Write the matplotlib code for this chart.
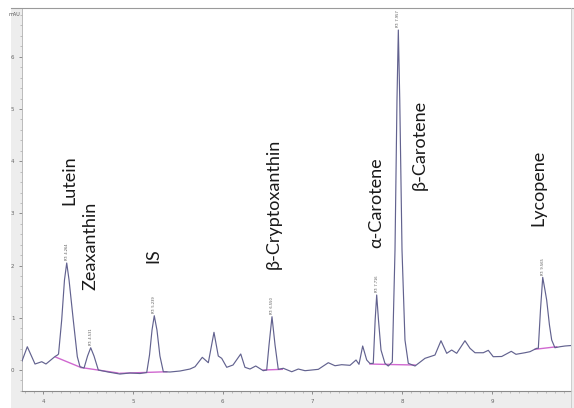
import matplotlib
matplotlib.use('Agg')
import matplotlib.pyplot as plt
from matplotlib.patches import Rectangle
from matplotlib.lines import Line2D
from matplotlib.ticker import MultipleLocator

# chromatogram trace (time in min, signal in mAU)
time = [3.766, 3.825, 3.911, 3.986, 4.033, 4.134, 4.161, 4.173, 4.208, 4.239, 4.264, 4.290,
        4.337, 4.382, 4.412, 4.457, 4.496, 4.531, 4.568, 4.616, 4.724, 4.857, 4.969, 5.080,
        5.155, 5.186, 5.214, 5.239, 5.269, 5.302, 5.340, 5.414, 5.526, 5.637, 5.693, 5.774,
        5.841, 5.904, 5.952, 5.990, 6.046, 6.116, 6.202, 6.249, 6.305, 6.369, 6.453, 6.491,
        6.517, 6.550, 6.584, 6.620, 6.676, 6.770, 6.843, 6.918, 7.066, 7.177, 7.252, 7.326,
        7.419, 7.486, 7.519, 7.560, 7.605, 7.641, 7.678, 7.699, 7.716, 7.736, 7.764, 7.808,
        7.845, 7.890, 7.920, 7.942, 7.957, 7.973, 7.998, 8.031, 8.068, 8.143, 8.254, 8.365,
        8.432, 8.496, 8.551, 8.607, 8.699, 8.755, 8.811, 8.903, 8.959, 9.014, 9.108, 9.215,
        9.267, 9.367, 9.423, 9.498, 9.516, 9.540, 9.565, 9.590, 9.609, 9.640, 9.665, 9.701,
        9.757, 9.813, 9.880]
signal = [0.172, 0.446, 0.115, 0.159, 0.115, 0.259, 0.287, 0.307, 0.958, 1.724, 2.050, 1.724,
          0.958, 0.255, 0.063, 0.038, 0.268, 0.427, 0.268, 0.000, -0.038, -0.077, -0.057, -0.067,
          -0.048, 0.287, 0.766, 1.040, 0.766, 0.268, -0.033, -0.038, -0.019, 0.019, 0.063, 0.243,
          0.140, 0.722, 0.268, 0.224, 0.052, 0.096, 0.307, 0.052, 0.019, 0.077, -0.013, 0.000,
          0.479, 1.021, 0.479, 0.013, 0.033, -0.033, 0.019, -0.013, 0.013, 0.140, 0.082, 0.102,
          0.090, 0.192, 0.109, 0.460, 0.192, 0.125, 0.128, 0.958, 1.437, 0.958, 0.383, 0.128,
          0.077, 0.153, 2.299, 5.172, 6.513, 5.172, 2.299, 0.575, 0.128, 0.077, 0.224, 0.287,
          0.561, 0.320, 0.383, 0.320, 0.561, 0.416, 0.331, 0.331, 0.377, 0.255, 0.259, 0.358,
          0.301, 0.331, 0.351, 0.416, 0.416, 1.149, 1.776, 1.533, 1.341, 0.862, 0.575, 0.427,
          0.446, 0.460, 0.469]

# integration baselines (start/end time, start/end signal)
base_t0 = [4.139, 4.423, 4.857, 6.453, 7.641, 7.845, 9.479]
base_t1 = [4.423, 4.835, 5.378, 6.665, 7.845, 8.143, 9.721]
base_v0 = [0.249, 0.048, -0.063, 0.000, 0.115, 0.106, 0.397]
base_v1 = [0.048, -0.057, -0.033, 0.013, 0.106, 0.096, 0.446]

# peaks
peak_names = ['Lutein', 'Zeaxanthin', 'IS', 'β-Cryptoxanthin', 'α-Carotene', 'β-Carotene', 'Lycopene']
peak_rt = [4.264, 4.531, 5.239, 6.550, 7.716, 7.957, 9.565]
peak_h = [2.050, 0.427, 1.040, 1.021, 1.437, 6.513, 1.776]
# where the compound names sit (centre of the rotated text)
label_t = [4.290, 4.523, 5.225, 6.572, 7.708, 8.198, 9.512]
label_v = [3.640, 2.375, 2.184, 3.190, 3.199, 4.310, 3.487]

xticks = [4, 5, 6, 7, 8, 9]
yticks = [0, 1, 2, 3, 4, 5, 6]

fig = plt.figure(figsize=(5.74, 4.08), dpi=100)
fig.patch.set_facecolor('white')
# grey frame of the software window
fig.patches.append(Rectangle((11 / 574, 0), 1 - 11 / 574, 1 - 8 / 408, transform=fig.transFigure,
                             facecolor='#ededed', edgecolor='none', zorder=-10))
fig.lines.append(Line2D([11 / 574, 1], [1 - 8 / 408, 1 - 8 / 408], transform=fig.transFigure,
                        color='#9a9a9a', lw=0.8, zorder=5))

ax = fig.add_axes([22 / 574, 1 - 391 / 408, 549 / 574, 383 / 408])
ax.set_zorder(1)
ax.set_facecolor('white')
ax.plot(time, signal, color='#62628f', lw=0.85, zorder=3)
for i in range(len(base_t0)):
    ax.plot([base_t0[i], base_t1[i]], [base_v0[i], base_v1[i]], color='#d068d0', lw=1.0, zorder=2)

for name, rt, h, lt, lv in zip(peak_names, peak_rt, peak_h, label_t, label_v):
    ax.text(rt, h + 0.05, 'RT: %.3f' % rt, rotation=90, fontsize=2.6, color='#555555',
            ha='center', va='bottom')
    ax.text(lt, lv, name, rotation=90, fontsize=13, color='#1a1a1a', ha='center', va='center',
            family=['Lato', 'DejaVu Sans'])

ax.set_xlim(3.766, 9.880)
ax.set_ylim(-0.402, 6.935)
ax.set_xticks(xticks)
ax.set_xticklabels([str(x) for x in xticks])
ax.set_yticks(yticks)
ax.set_yticklabels([str(y) for y in yticks])
ax.xaxis.set_minor_locator(MultipleLocator(0.1))
ax.yaxis.set_minor_locator(MultipleLocator(0.2))
ax.tick_params(axis='both', which='major', labelsize=4, length=2.5, width=0.5, colors='#666666', pad=3)
ax.tick_params(axis='both', which='minor', length=1.2, width=0.4, colors='#999999')
for s in ['top', 'right']:
    ax.spines[s].set_visible(False)
ax.spines['left'].set_color('#b0b0b0')
ax.spines['bottom'].set_color('#8a8a8a')
ax.spines['left'].set_linewidth(0.6)
ax.spines['bottom'].set_linewidth(0.8)
ax.text(-0.004, 0.99, 'mAU', transform=ax.transAxes, fontsize=3.5, color='#555555', ha='right', va='top')
fig.lines.append(Line2D([571 / 574, 571 / 574], [0, 1 - 8 / 408], transform=fig.transFigure,
                        color='#c8c8c8', lw=0.6, zorder=5))

fig.savefig('out.png', dpi=100)
